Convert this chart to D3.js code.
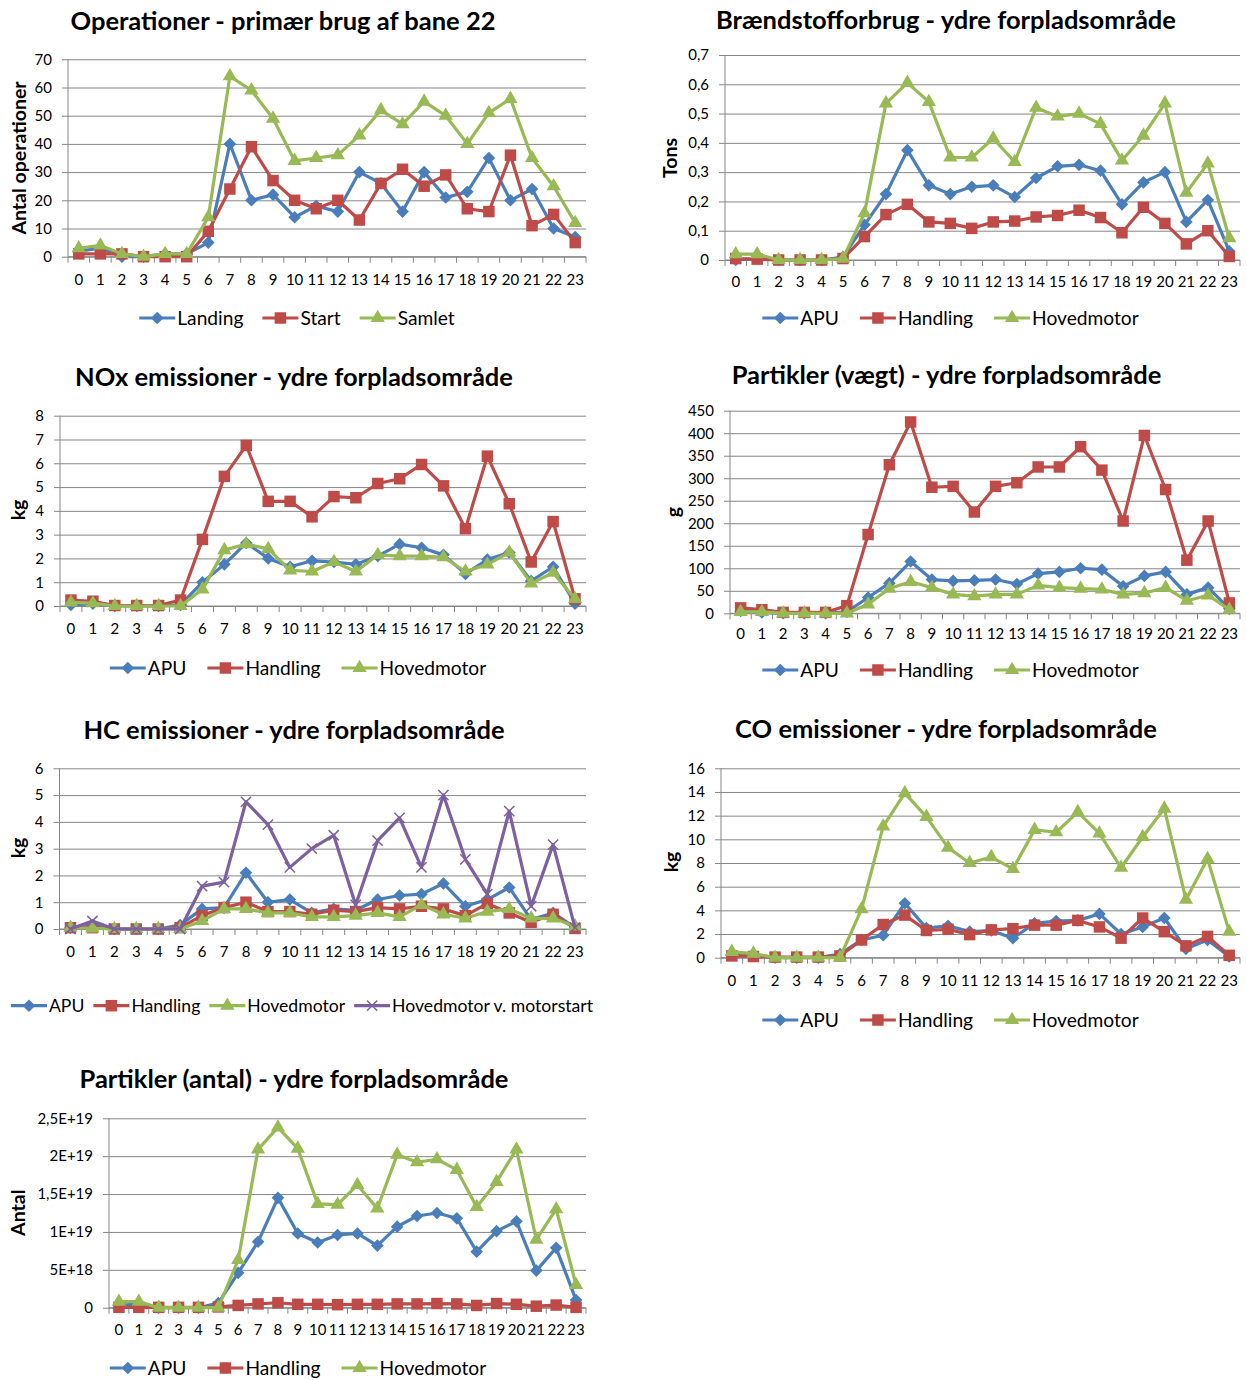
<!DOCTYPE html>
<html>
<head>
<meta charset="utf-8">
<script src="https://cdn.jsdelivr.net/npm/d3@7"></script>
<style>
  body { margin: 0; background: #fff; }
  svg { display: block; font-family: Lato, "Open Sans", sans-serif; }
</style>
</head>
<body>
<svg id="chart" width="1247" height="1380"></svg>
<script>
// Hours of the day (x categories, shared by all panels)
const hours = ["0","1","2","3","4","5","6","7","8","9","10","11","12","13","14","15","16","17","18","19","20","21","22","23"];

// Operationer - primær brug af bane 22
const opsLanding = [2,3,0,0,1,1,5,40,20,22,14,18,16,30,26,16,30,21,23,35,20,24,10,7];
const opsStart   = [1,1,1,0,0,0,9,24,39,27,20,17,20,13,26,31,25,29,17,16,36,11,15,5];
const opsSamlet  = [3,4,1,0,1,1,14,64,59,49,34,35,36,43,52,47,55,50,40,51,56,35,25,12];
const opsTicks   = [0,10,20,30,40,50,60,70];

// Brændstofforbrug (tons)
const fuelApu      = [0,0.005,0,0,0,0.01,0.12,0.225,0.375,0.255,0.225,0.25,0.255,0.215,0.28,0.32,0.325,0.305,0.19,0.265,0.30,0.13,0.205,0.03];
const fuelHandling = [0.005,0.003,0,0,0,0.005,0.08,0.155,0.19,0.13,0.125,0.108,0.13,0.133,0.147,0.152,0.17,0.145,0.093,0.18,0.125,0.055,0.10,0.012];
const fuelHoved    = [0.02,0.02,0,0,0,0.005,0.16,0.535,0.605,0.54,0.35,0.35,0.415,0.335,0.52,0.49,0.50,0.465,0.34,0.425,0.535,0.23,0.33,0.075];
const fuelTicks    = [0,0.1,0.2,0.3,0.4,0.5,0.6,0.7];

// NOx emissioner (kg)
const noxApu      = [0.05,0.1,0,0,0,0.05,1.0,1.75,2.65,2.0,1.65,1.9,1.85,1.75,2.1,2.6,2.45,2.15,1.35,1.95,2.25,1.05,1.65,0.1];
const noxHandling = [0.25,0.2,0.02,0.02,0.02,0.25,2.8,5.45,6.75,4.4,4.4,3.75,4.6,4.55,5.15,5.35,5.95,5.05,3.25,6.3,4.3,1.85,3.55,0.3];
const noxHoved    = [0.15,0.12,0,0,0,0,0.7,2.35,2.6,2.4,1.5,1.45,1.85,1.45,2.15,2.1,2.1,2.05,1.45,1.75,2.25,0.95,1.4,0.3];
const noxTicks    = [0,1,2,3,4,5,6,7,8];

// Partikler, vægt (g)
const pmWApu      = [5,2,0,0,0,3,35,67,115,75,72,73,75,65,88,92,100,97,60,83,92,42,57,10];
const pmWHandling = [12,8,2,2,2,17,175,330,425,280,282,225,282,290,325,325,370,318,205,395,275,118,205,23];
const pmWHoved    = [3,3,0,0,0,0,20,55,70,57,42,38,42,42,62,57,55,53,42,45,57,28,40,8];
const pmWTicks    = [0,50,100,150,200,250,300,350,400,450];

// HC emissioner (kg)
const hcApu      = [0.05,0.15,0,0,0,0.15,0.75,0.8,2.1,1.0,1.1,0.6,0.75,0.7,1.1,1.25,1.3,1.7,0.85,1.1,1.55,0.35,0.6,0.05];
const hcHandling = [0.05,0.05,0,0,0,0.05,0.5,0.8,1.0,0.65,0.65,0.55,0.7,0.65,0.8,0.75,0.85,0.75,0.5,0.95,0.6,0.25,0.55,0.02];
const hcHoved    = [0.05,0.02,0,0,0,0,0.3,0.75,0.75,0.6,0.6,0.45,0.45,0.5,0.6,0.45,0.9,0.55,0.4,0.65,0.75,0.4,0.4,0.1];
const hcMotorstart = [0,0.3,0,0,0,0,1.6,1.75,4.75,3.9,2.3,3.0,3.5,0.9,3.3,4.15,2.3,5.0,2.6,1.3,4.4,0.85,3.15,0.05];
const hcTicks    = [0,1,2,3,4,5,6];

// CO emissioner (kg)
const coApu      = [0.3,0.3,0,0,0,0.3,1.5,1.9,4.6,2.5,2.7,2.2,2.3,1.65,2.9,3.1,3.15,3.7,2.0,2.6,3.35,0.75,1.5,0.1];
const coHandling = [0.15,0.1,0.05,0.05,0.05,0.15,1.5,2.8,3.6,2.3,2.4,1.95,2.35,2.45,2.75,2.75,3.15,2.6,1.65,3.35,2.2,1.0,1.8,0.2];
const coHoved    = [0.5,0.35,0,0,0,0,4.1,11.1,13.9,11.9,9.3,8.0,8.5,7.5,10.8,10.6,12.3,10.5,7.6,10.2,12.6,4.9,8.35,2.2];
const coTicks    = [0,2,4,6,8,10,12,14,16];

// Partikler, antal
const pmNApu      = [3e17,5e17,0,0,0,6e17,4.6e18,8.7e18,1.45e19,9.8e18,8.6e18,9.6e18,9.8e18,8.2e18,1.07e19,1.21e19,1.25e19,1.18e19,7.4e18,1.01e19,1.14e19,4.9e18,7.9e18,1.0e18];
const pmNHandling = [5e16,5e16,5e16,5e16,5e16,1e17,3e17,5e17,6.5e17,4.5e17,4.5e17,4e17,4.5e17,4.5e17,5e17,5e17,5.5e17,5e17,3e17,5.5e17,4.5e17,2e17,3.5e17,5e16];
const pmNHoved    = [8e17,8e17,0,0,0,0,6.3e18,2.09e19,2.38e19,2.1e19,1.37e19,1.36e19,1.62e19,1.31e19,2.02e19,1.92e19,1.96e19,1.82e19,1.33e19,1.66e19,2.09e19,9e18,1.3e19,3e18];
const pmNTicks      = [0,5e18,1e19,1.5e19,2e19,2.5e19];
const pmNTickLabels = ["0","5E+18","1E+19","1,5E+19","2E+19","2,5E+19"];

// Series styling
const BLUE = "#4A7EBB", RED = "#BE4B48", GREEN = "#98B954", PURPLE = "#7D60A0";
const GRID = "#868686";
const TICK_FONT = 15, TITLE_FONT = 25.5, YTITLE_FONT = 19.5;
const commaFmt = d => String(d).replace(".", ",");

const emissionSeries = (apu, handling, hoved) => [
  { name: "APU", values: apu, color: BLUE, marker: "diamond" },
  { name: "Handling", values: handling, color: RED, marker: "square" },
  { name: "Hovedmotor", values: hoved, color: GREEN, marker: "triangle" }
];

const panels = [
  { title: "Operationer - primær brug af bane 22", yTitle: "Antal operationer",
    series: [
      { name: "Landing", values: opsLanding, color: BLUE, marker: "diamond" },
      { name: "Start", values: opsStart, color: RED, marker: "square" },
      { name: "Samlet", values: opsSamlet, color: GREEN, marker: "triangle" }
    ],
    ticks: opsTicks, fmt: commaFmt,
    box: { l: 68, r: 586, t: 59.3, b: 256.7 }, titleX: 283, titleY: 21,
    yTitleX: 19, yTitleY: 158, xLabY: 280,
    legX: 297, legY: 318, legFont: 19.2, legGap: 19 },
  { title: "Brændstofforbrug - ydre forpladsområde", yTitle: "Tons",
    series: emissionSeries(fuelApu, fuelHandling, fuelHoved),
    ticks: fuelTicks, fmt: commaFmt,
    box: { l: 725, r: 1240, t: 55, b: 260 }, titleX: 946, titleY: 20,
    yTitleX: 670, yTitleY: 158, xLabY: 281.5,
    legX: 950.5, legY: 318, legFont: 19.2, legGap: 21 },
  { title: "NOx emissioner - ydre forpladsområde", yTitle: "kg",
    series: emissionSeries(noxApu, noxHandling, noxHoved),
    ticks: noxTicks, fmt: commaFmt,
    box: { l: 60, r: 586, t: 415.7, b: 606 }, titleX: 294, titleY: 377,
    yTitleX: 18.5, yTitleY: 510, xLabY: 629,
    legX: 298, legY: 668, legFont: 19.2, legGap: 21 },
  { title: "Partikler (vægt) - ydre forpladsområde", yTitle: "g",
    series: emissionSeries(pmWApu, pmWHandling, pmWHoved),
    ticks: pmWTicks, fmt: commaFmt,
    box: { l: 730, r: 1240, t: 410.7, b: 613.3 }, titleX: 946.5, titleY: 375,
    yTitleX: 673, yTitleY: 512, xLabY: 634,
    legX: 950.5, legY: 670, legFont: 19.2, legGap: 21 },
  { title: "HC emissioner - ydre forpladsområde", yTitle: "kg",
    series: emissionSeries(hcApu, hcHandling, hcHoved).concat([
      { name: "Hovedmotor v. motorstart", values: hcMotorstart, color: PURPLE, marker: "x" }
    ]),
    ticks: hcTicks, fmt: commaFmt,
    box: { l: 59.5, r: 586, t: 768.3, b: 929 }, titleX: 294, titleY: 730,
    yTitleX: 18, yTitleY: 848, xLabY: 951.7,
    legX: 302, legY: 1005.7, legFont: 17.6, legGap: 9 },
  { title: "CO emissioner - ydre forpladsområde", yTitle: "kg",
    series: emissionSeries(coApu, coHandling, coHoved),
    ticks: coTicks, fmt: commaFmt,
    box: { l: 721, r: 1240, t: 768.3, b: 957.7 }, titleX: 946, titleY: 729,
    yTitleX: 671, yTitleY: 862, xLabY: 980.7,
    legX: 950.5, legY: 1020, legFont: 19.2, legGap: 21 },
  { title: "Partikler (antal) - ydre forpladsområde", yTitle: "Antal",
    series: emissionSeries(pmNApu, pmNHandling, pmNHoved),
    ticks: pmNTicks, fmt: (d, i) => pmNTickLabels[i],
    box: { l: 109, r: 586, t: 1118.3, b: 1307.7 }, titleX: 294, titleY: 1079,
    yTitleX: 18.5, yTitleY: 1212.7, xLabY: 1330,
    legX: 298, legY: 1368, legFont: 19.2, legGap: 21 }
];

const svg = d3.select("#chart");

// Marker shapes in Excel style
function markerPath(type) {
  switch (type) {
    case "diamond":  return d3.symbol(d3.symbolSquare, 80)();
    case "square":   return d3.symbol(d3.symbolSquare, 132)();
    case "triangle": return d3.symbol(d3.symbolTriangle, 88)();
    case "x":        return d3.symbol(d3.symbolX, 70)();
  }
}
function drawMarker(sel, s) {
  const p = sel.append("path").attr("d", markerPath(s.marker));
  if (s.marker === "x") {
    p.attr("fill", "none").attr("stroke", s.color).attr("stroke-width", 1.5);
  } else {
    p.attr("fill", s.color).attr("stroke", "none");
  }
  if (s.marker === "diamond") p.attr("transform", "rotate(45)");
  return p;
}

panels.forEach(p => {
  const g = svg.append("g");
  const { l, r, t, b } = p.box;
  const yMax = p.ticks[p.ticks.length - 1];

  const x = d3.scaleBand().domain(hours).range([l, r]).paddingInner(0).paddingOuter(0);
  const y = d3.scaleLinear().domain([0, yMax]).range([b, t]);
  const cx = h => x(h) + x.bandwidth() / 2;

  // Horizontal gridlines with outer tick marks and labels
  const yAxis = d3.axisLeft(y)
    .tickValues(p.ticks)
    .tickSizeInner(-(r - l + 6))
    .tickSizeOuter(0)
    .tickPadding(10)
    .tickFormat(p.fmt);
  const ya = g.append("g").attr("transform", `translate(${l - 6},0)`).call(yAxis);
  ya.select(".domain").remove();
  ya.selectAll(".tick line").attr("stroke", GRID).attr("stroke-width", 1);
  ya.selectAll(".tick text")
    .attr("fill", "#000").attr("font-size", TICK_FONT).attr("font-family", "Lato, sans-serif");

  // Vertical axis line
  g.append("line").attr("x1", l).attr("x2", l).attr("y1", t).attr("y2", b)
    .attr("stroke", GRID).attr("stroke-width", 1);

  // Category axis: labels centered in each hour band, tick marks between bands
  const xAxis = d3.axisBottom(x).tickSize(0).tickPadding(0);
  const xa = g.append("g").attr("transform", `translate(0,${b})`).call(xAxis);
  xa.select(".domain").remove();
  xa.selectAll(".tick text")
    .attr("y", p.xLabY - b).attr("dy", "0.35em")
    .attr("fill", "#000").attr("font-size", TICK_FONT).attr("font-family", "Lato, sans-serif");
  g.append("line").attr("x1", l).attr("x2", r).attr("y1", b).attr("y2", b)
    .attr("stroke", GRID).attr("stroke-width", 1);
  g.selectAll(".xtick").data(hours.concat(["end"])).join("line")
    .attr("class", "xtick")
    .attr("x1", d => d === "end" ? r : x(d)).attr("x2", d => d === "end" ? r : x(d))
    .attr("y1", b).attr("y2", b + 6)
    .attr("stroke", GRID).attr("stroke-width", 1);

  // Series: line then markers, in series order
  const line = d3.line().x((v, i) => cx(hours[i])).y(v => y(v));
  p.series.forEach(s => {
    g.append("path").datum(s.values)
      .attr("d", line).attr("fill", "none")
      .attr("stroke", s.color).attr("stroke-width", 3.2)
      .attr("stroke-linejoin", "round");
    s.values.forEach((v, i) => {
      const mg = g.append("g").attr("transform", `translate(${cx(hours[i])},${y(v)})`);
      drawMarker(mg, s);
    });
  });

  // Chart title
  g.append("text").text(p.title)
    .attr("x", p.titleX).attr("y", p.titleY).attr("dy", "0.35em")
    .attr("text-anchor", "middle").attr("font-weight", "bold").attr("font-size", TITLE_FONT)
    .attr("fill", "#000");

  // Value axis title
  g.append("text").text(p.yTitle)
    .attr("transform", `translate(${p.yTitleX},${p.yTitleY}) rotate(-90)`)
    .attr("dy", "0.35em").attr("text-anchor", "middle")
    .attr("font-weight", "bold").attr("font-size", YTITLE_FONT).attr("fill", "#000");

  // Legend: line sample with marker, then label, items laid out side by side
  const leg = g.append("g");
  let cursor = 0;
  p.series.forEach(s => {
    const item = leg.append("g").attr("transform", `translate(${cursor},0)`);
    item.append("line").attr("x1", 0).attr("x2", 36).attr("y1", 0).attr("y2", 0)
      .attr("stroke", s.color).attr("stroke-width", 3.2);
    const mg = item.append("g").attr("transform", "translate(18,0)");
    drawMarker(mg, s);
    const tx = item.append("text").text(s.name)
      .attr("x", 38).attr("dy", "0.35em").attr("font-size", p.legFont).attr("fill", "#000");
    cursor += 38 + tx.node().getComputedTextLength() + p.legGap;
  });
  const legW = cursor - p.legGap;
  leg.attr("transform", `translate(${p.legX - legW / 2},${p.legY})`);
});
</script>
</body>
</html>
